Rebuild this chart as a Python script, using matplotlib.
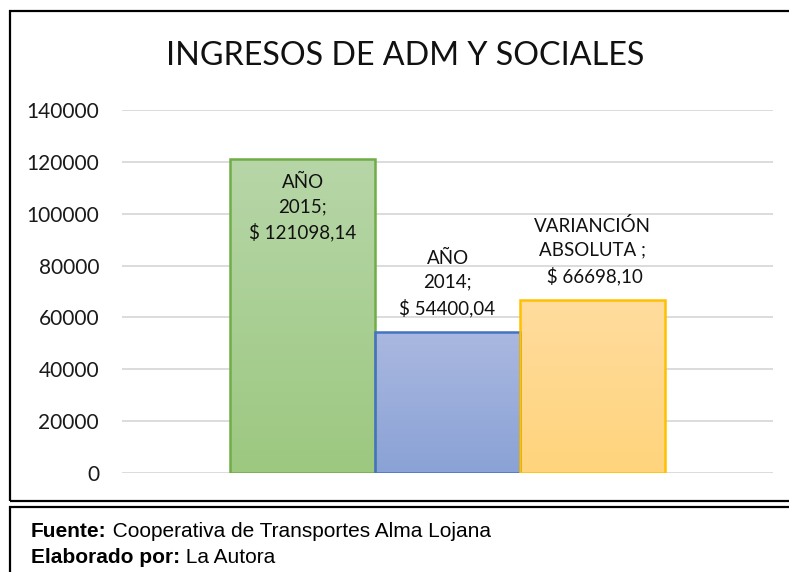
import matplotlib
matplotlib.use("Agg")
import matplotlib.pyplot as plt
import numpy as np
from matplotlib.patches import Rectangle
from matplotlib.colors import LinearSegmentedColormap

title = "INGRESOS DE ADM Y SOCIALES"
series_names = ["AÑO\n2015;", "AÑO\n2014;", "VARIANCIÓN\nABSOLUTA ;"]
values = [121098.14, 54400.04, 66698.10]
value_labels = ["$ 121098,14", "$ 54400,04", " $ 66698,10"]
yticks = [0, 20000, 40000, 60000, 80000, 100000, 120000, 140000]
fill_top = ["#b7d6a8", "#aab8e0", "#ffdc9e"]
fill_bottom = ["#9cc880", "#8aa2d6", "#ffd47c"]
edge_colors = ["#70ad47", "#4472c4", "#ffc000"]

W, H = 789, 572
fig = plt.figure(figsize=(W / 100, H / 100), dpi=100)
fig.patch.set_facecolor("white")

def fx(px):
    return px / W

def fy(py):
    return 1 - py / H

# outer boxes
fig.patches.append(Rectangle((fx(10), fy(501)), fx(800) - fx(10), fy(11) - fy(501),
                             transform=fig.transFigure, fill=False, edgecolor="black", linewidth=1.6))
fig.patches.append(Rectangle((fx(10), fy(580)), fx(800) - fx(10), fy(507) - fy(580),
                             transform=fig.transFigure, fill=False, edgecolor="black", linewidth=1.6))

ax = fig.add_axes([fx(122), fy(473), fx(773) - fx(122), fy(110) - fy(473)])
ax.set_facecolor("none")
for s in ax.spines.values():
    s.set_visible(False)

n = len(values)
xpos = np.arange(n)
ax.set_yticks(yticks)
ax.set_yticklabels([str(t) for t in yticks], fontsize=15, family="Lato", color="#1a1a1a")
ax.set_xticks([])
ax.tick_params(axis="y", length=0, pad=16.5)
ax.yaxis.grid(True, color="#d9d9d9", linewidth=1.3)
ax.set_axisbelow(True)

bars = ax.bar(xpos, values, width=1.0, edgecolor=edge_colors, linewidth=1.8, color="none", zorder=3)
for i, b in enumerate(bars):
    cmap = LinearSegmentedColormap.from_list("g%d" % i, [fill_bottom[i], fill_top[i]])
    grad = np.linspace(0, 1, 256).reshape(-1, 1)
    im = ax.imshow(grad, cmap=cmap, aspect="auto", origin="lower",
                   extent=(b.get_x(), b.get_x() + b.get_width(), 0, b.get_height()), zorder=2)
    im.set_clip_path(b)
ax.set_xlim(1 - 2.245, 1 + 2.245)
ax.set_ylim(0, 140000)

# data labels
for i in range(n):
    txt = series_names[i] + "\n" + value_labels[i]
    if i == 0:
        ax.annotate(txt, (xpos[i], values[i]), xytext=(0, -15), textcoords="offset pixels",
                    ha="center", va="top", fontsize=13.5, family="Lato", linespacing=1.5,
                    color="#111111", zorder=5)
    else:
        ax.annotate(txt, (xpos[i], values[i]), xytext=(0, 15), textcoords="offset pixels",
                    ha="center", va="bottom", fontsize=13.5, family="Lato", linespacing=1.5,
                    color="#111111", zorder=5)

fig.text(fx(405), fy(56), title, ha="center", va="center", fontsize=23.2, family="Lato", color="#111111")

# footer
fnt = "Liberation Sans"
fs = 15
t1 = fig.text(fx(31), fy(537), "Fuente:", ha="left", va="baseline", fontsize=fs, family=fnt, weight="bold")
t2 = fig.text(fx(31), fy(563), "Elaborado por:", ha="left", va="baseline", fontsize=fs, family=fnt, weight="bold")
fig.canvas.draw()
r = fig.canvas.get_renderer()
for t, rest in [(t1, " Cooperativa de Transportes Alma Lojana"), (t2, " La Autora")]:
    bb = t.get_window_extent(r)
    fig.text(bb.x1 / W, t.get_position()[1], rest, ha="left", va="baseline", fontsize=fs, family=fnt)

fig.savefig("out.png", dpi=100)
